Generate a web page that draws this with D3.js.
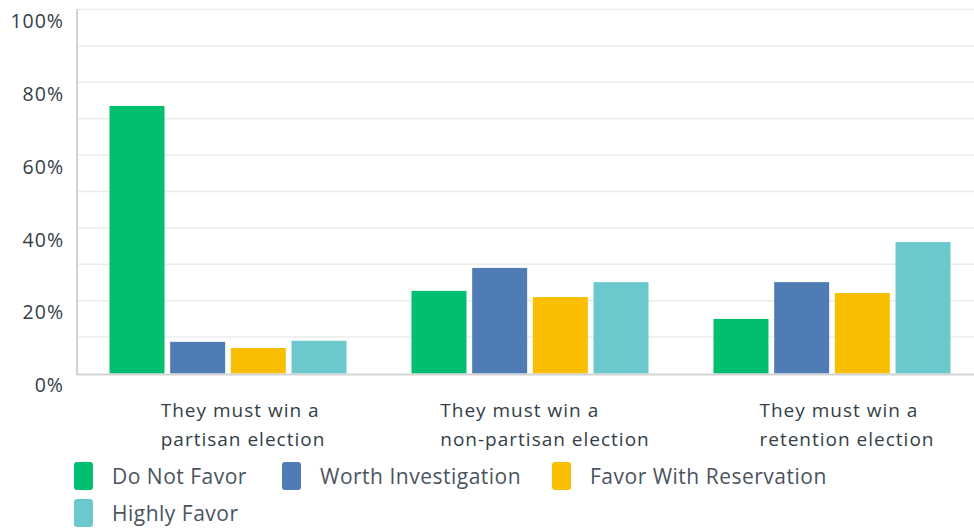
<!DOCTYPE html>
<html><head><meta charset="utf-8">
<script src="https://cdn.jsdelivr.net/npm/d3@7"></script>
<style>body{margin:0;background:#fff}svg{display:block}</style>
</head><body><svg id="c" width="974" height="529"></svg>
<script>
const categories = [["They must win a","partisan election"],["They must win a","non-partisan election"],["They must win a","retention election"]];
const seriesNames = ["Do Not Favor","Worth Investigation","Favor With Reservation","Highly Favor"];
const seriesColors = ["#00bf6f","#507cb6","#f9be00","#6bc8cd"];
const doNotFavor = [73.5, 22.7, 15.0];
const worthInvestigation = [8.7, 29.0, 25.1];
const favorWithReservation = [7.0, 21.0, 22.1];
const highlyFavor = [9.0, 25.1, 36.1];
const yTicks = [0,20,40,60,80,100];
const gridTicks = [0,10,20,30,40,50,60,70,80,90,100];
const series = [doNotFavor, worthInvestigation, favorWithReservation, highlyFavor];

const svg = d3.select("#c");
const font = "'Open Sans', 'Noto Sans', sans-serif";
const innerW = 237;
const x0 = d3.scaleBand().domain(d3.range(categories.length)).range([77, 983]);
const x1 = d3.scaleBand().domain(d3.range(series.length)).range([0, innerW]).paddingInner(0.094);
const y = d3.scaleLinear().domain([0,100]).range([373.5, 9.5]);

svg.append("g").selectAll("line").data(gridTicks.filter(d=>d>0)).join("line")
  .attr("x1",77).attr("x2",974).attr("y1",d=>y(d)).attr("y2",d=>y(d))
  .attr("stroke","#ececec").attr("stroke-width",1.5);

const ya = svg.append("g").attr("transform","translate(64,12)")
  .call(d3.axisLeft(y).tickValues(yTicks).tickFormat(d=>d+"%").tickSize(0).tickPadding(0));
ya.select(".domain").remove();
ya.selectAll("text").attr("font-family",font).attr("font-size",19.5).attr("letter-spacing",1).attr("fill","#333e48");

const gs = svg.append("g").selectAll("g").data(categories).join("g")
  .attr("transform",(d,i)=>`translate(${x0(i)+(x0.bandwidth()-innerW)/2},0)`);
gs.selectAll("rect").data((d,i)=>series.map((s,j)=>({j,v:s[i]}))).join("rect")
  .attr("x",d=>x1(d.j)).attr("width",x1.bandwidth())
  .attr("y",d=>y(d.v)).attr("height",d=>y(0)-y(d.v))
  .attr("fill",d=>seriesColors[d.j]);

svg.append("line").attr("x1",77).attr("x2",77).attr("y1",9).attr("y2",375).attr("stroke","#d3d3d3").attr("stroke-width",2);
svg.append("line").attr("x1",76).attr("x2",974).attr("y1",374.5).attr("y2",374.5).attr("stroke","#d3d3d3").attr("stroke-width",2);

categories.forEach((lines,i)=>{
  const t = svg.append("text").attr("font-family",font).attr("font-size",19).attr("letter-spacing",1).attr("fill","#333e48");
  lines.forEach((l,k)=>t.append("tspan").attr("x",0).attr("y",417+k*29).text(l));
  const w = t.node().getBBox().width;
  const cx = x0(i)+x0.bandwidth()/2 + 15;
  t.attr("transform",`translate(${cx-w/2},0)`);
});

const legendPos = [[74,462],[282,462],[552,462],[74,499]];
seriesNames.forEach((n,j)=>{
  const g = svg.append("g").attr("transform",`translate(${legendPos[j][0]},${legendPos[j][1]})`);
  g.append("rect").attr("width",19).attr("height",28).attr("rx",3).attr("fill",seriesColors[j]);
  g.append("text").attr("x",38).attr("y",21.5).attr("font-family",font).attr("font-size",21).attr("letter-spacing",0.5).attr("fill","#4a545e").text(n);
});
</script></body></html>
